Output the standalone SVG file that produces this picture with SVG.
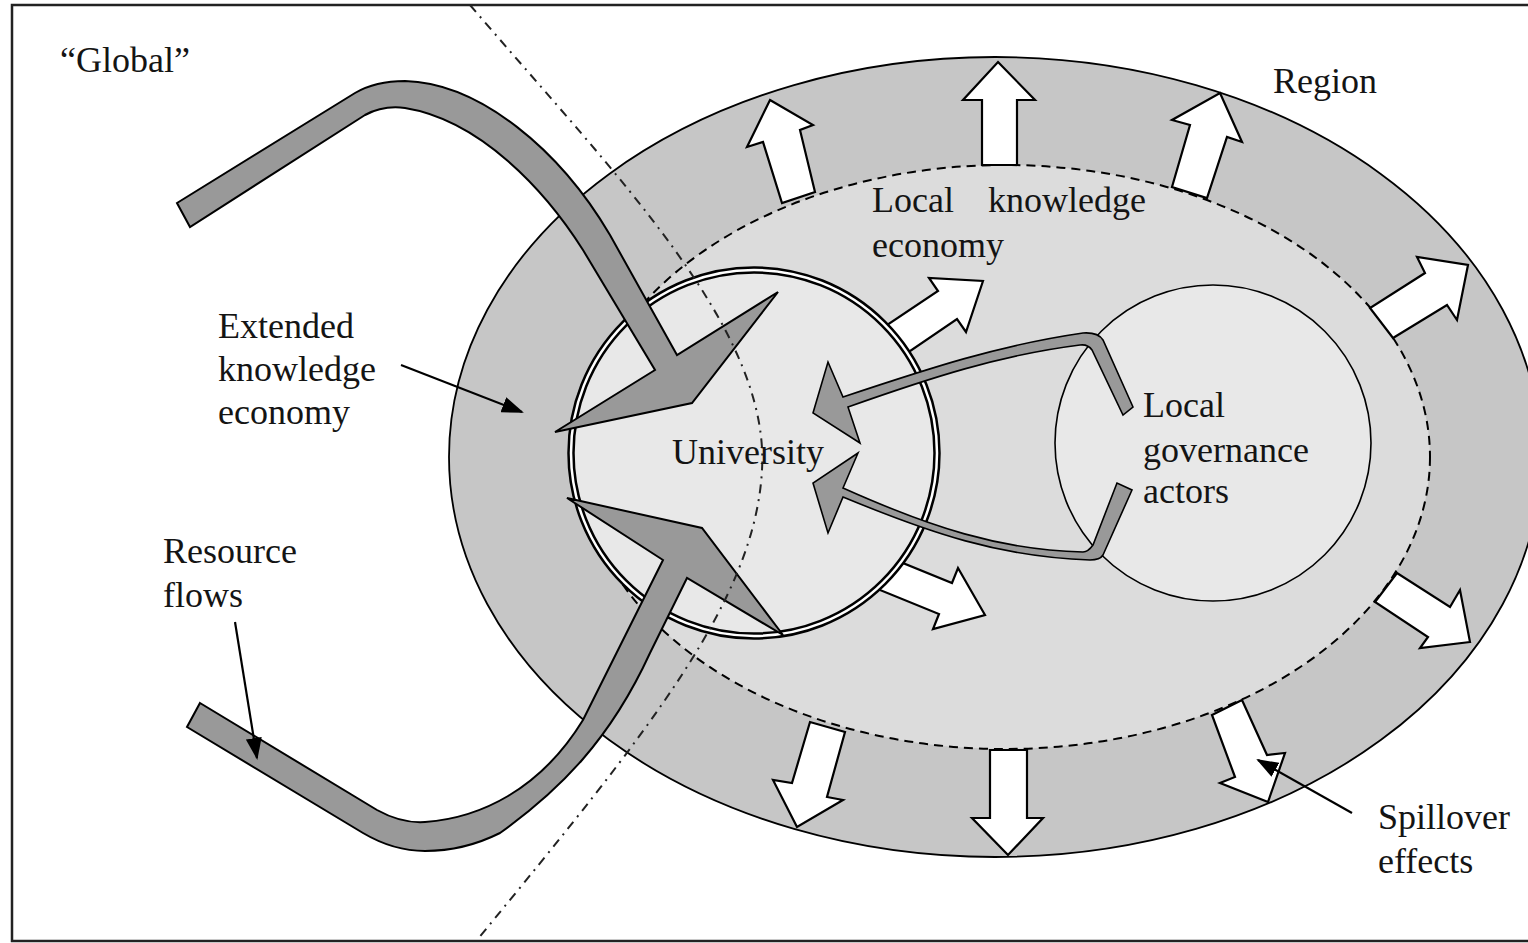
<svg xmlns="http://www.w3.org/2000/svg" width="1528" height="943" viewBox="0 0 1528 943">
<style>
text{font-family:"Liberation Serif","Times New Roman",serif;font-size:36px;fill:#141414}
.flow{fill:#999;stroke:#000;stroke-width:2;stroke-linejoin:miter}
.thin{fill:#999;stroke:#000;stroke-width:1.6;stroke-linejoin:miter}
.white{fill:#fff;stroke:#000;stroke-width:2.2;stroke-linejoin:miter}
.ann{stroke:#000;stroke-width:2.2;fill:none;marker-end:url(#ah)}
</style>
<defs>
<marker id="ah" viewBox="0 0 22 16" refX="20" refY="8" markerWidth="22" markerHeight="16" markerUnits="userSpaceOnUse" orient="auto">
<path d="M0,0 L22,8 L0,16 Z" fill="#000"/>
</marker>
</defs>
<rect x="12" y="5" width="1530" height="936" fill="#fff" stroke="#222" stroke-width="2.5"/>

<g id="region">
<ellipse cx="995" cy="457" rx="546" ry="400" fill="#c6c6c6" stroke="#000" stroke-width="1.8"/>
</g>
<g id="local-economy">
<ellipse cx="1005" cy="457" rx="425" ry="292" fill="#dcdcdc" stroke="#000" stroke-width="2" stroke-dasharray="9 6"/>
</g>
<g id="governance">
<circle cx="1213" cy="443" r="158" fill="#e8e8e8" stroke="#000" stroke-width="1.6"/>
</g>

<g id="spillovers">
<polygon class="white" points="770,100 813,125 800,130 815,192 782,203 763,142 747,147"/>
<polygon class="white" points="998,62 1035,100 1017,100 1017,165 982,165 982,100 963,100"/>
<polygon class="white" points="1220,93 1242,142 1227,137 1207,198 1172,187 1190,125 1172,120"/>
<polygon class="white" points="1468,265 1457,320 1447,305 1393,338 1370,308 1425,273 1417,257"/>
<polygon class="white" points="1470,642 1420,648 1428,637 1375,602 1397,573 1450,607 1460,590"/>
<polygon class="white" points="1268,802 1220,783 1235,777 1212,715 1242,700 1267,755 1285,753"/>
<polygon class="white" points="1008,855 972,818 990,818 990,750 1027,750 1027,818 1043,818"/>
<polygon class="white" points="797,827 773,780 792,783 810,722 845,732 827,797 843,800"/>
<polygon class="white" points="983,281 966,332 957,319 897,360 878,331 938,291 929,278"/>
<polygon class="white" points="985,615 958,568 952,583 888,557 875,588 939,614 933,629"/>
</g>

<g id="university">
<circle cx="754" cy="453" r="183" fill="#e8e8e8" stroke="#000" stroke-width="7.5"/>
<circle cx="754" cy="453" r="183" fill="none" stroke="#fff" stroke-width="2.5"/>
</g>

<g id="connectors">
<path class="flow" d="M177,203 L355,93 C372,83 388,81 405,81 C480,83 560,150 610,235 L677,355 L778,292 L692,403 L555,432 L655,370 L583,250 C545,190 480,120 405,108 C390,106 378,108 365,115 L190,227 Z"/>
<path class="flow" d="M200,703 L377,810 C395,820 410,823 425,822 C480,818 540,790 583,720 L663,560 L567,498 L702,528 L783,635 L687,578 L650,653 C610,740 560,790 500,833 C470,848 445,851 425,851 C405,851 385,846 363,833 L187,727 Z"/>
<path class="thin" d="M1133,407 L1103,340 Q1098,332 1083,333 C1000,345 930,368 843,397 L828,362 L813,413 L860,443 L848,407 C930,378 1000,355 1080,345 Q1088,344 1092,350 L1123,415 Z"/>
<path class="thin" d="M1117,483 L1093,545 Q1088,552 1083,552 C1000,550 930,527 843,488 L858,453 L813,483 L828,533 L843,497 C930,533 1000,557 1090,560 Q1100,560 1103,555 L1132,490 Z"/>
<path d="M470,5 C620,180 770,330 762,470 C755,600 650,730 477,940" fill="none" stroke="#222" stroke-width="2" stroke-dasharray="9 6 2 6"/>
<line class="ann" x1="401" y1="365" x2="522" y2="412"/>
<line class="ann" x1="235" y1="622" x2="257" y2="758"/>
<line class="ann" x1="1352" y1="813" x2="1258" y2="760"/>
</g>

<g id="labels">
<text x="60" y="72">“Global”</text>
<text x="1273" y="93">Region</text>
<text x="872" y="212">Local<tspan x="988">knowledge</tspan><tspan x="872" y="257">economy</tspan></text>
<text x="218" y="338">Extended<tspan x="218" y="381">knowledge</tspan><tspan x="218" y="424">economy</tspan></text>
<text x="672" y="464">University</text>
<text x="1143" y="417">Local<tspan x="1143" y="462">governance</tspan><tspan x="1143" y="503">actors</tspan></text>
<text x="163" y="563">Resource<tspan x="163" y="607">flows</tspan></text>
<text x="1378" y="829">Spillover<tspan x="1378" y="873">effects</tspan></text>
</g>
</svg>
